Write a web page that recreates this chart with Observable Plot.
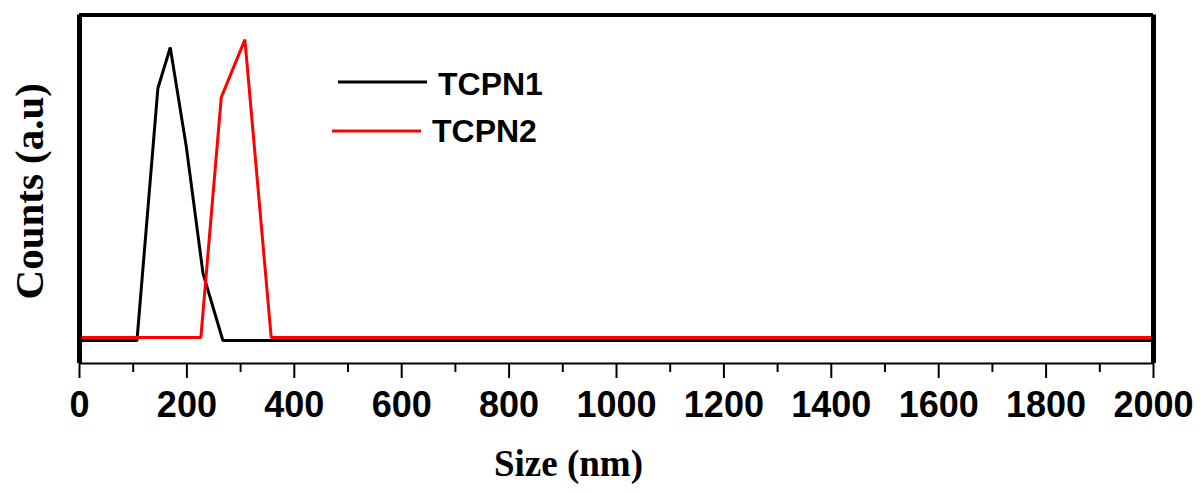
<!DOCTYPE html>
<html>
<head>
<meta charset="utf-8">
<script src="https://cdn.jsdelivr.net/npm/d3@7"></script>
<script src="https://cdn.jsdelivr.net/npm/@observablehq/plot@0.6"></script>
<style>
  html, body { margin: 0; padding: 0; background: #fff; }
  #chart { width: 1204px; height: 493px; }
</style>
</head>
<body>
<div id="chart"></div>
<script>
// ---- data ----
const seriesNames = ["TCPN1", "TCPN2"];
const seriesColors = ["#000000", "#ff0000"];
const tcpn1Size   = [0, 107, 146, 169, 199, 230, 267, 2000];
const tcpn1Counts = [0, 0, 86.1, 100, 66.0, 22.9, 0, 0];
const tcpn2Size   = [0, 226, 264, 308, 357, 2000];
const tcpn2Counts = [1.0, 1.0, 83.0, 102.7, 1.0, 1.0];
const majorTicks = [0, 200, 400, 600, 800, 1000, 1200, 1400, 1600, 1800, 2000];
const minorTicks = [100, 300, 500, 700, 900, 1100, 1300, 1500, 1700, 1900];
const xLabel = "Size (nm)";
const yLabel = "Counts (a.u)";
const xDomain = [0, 2000];
const yDomain = [-7.85, 111.1];

const rows = [
  ...tcpn1Size.map((s, i) => ({series: seriesNames[0], size: s, counts: tcpn1Counts[i]})),
  ...tcpn2Size.map((s, i) => ({series: seriesNames[1], size: s, counts: tcpn2Counts[i]}))
];

const sansBold = "'Liberation Sans', Arial, sans-serif";
const serifBold = "'Liberation Serif', 'Times New Roman', serif";

const plot = Plot.plot({
  width: 1204,
  height: 493,
  marginLeft: 79,
  marginRight: 51,
  marginTop: 14.5,
  marginBottom: 130,
  style: {background: "#fff", color: "#000", overflow: "visible"},
  x: {domain: xDomain},
  y: {domain: yDomain, axis: null},
  color: {domain: seriesNames, range: seriesColors},
  marks: [
    Plot.axisX({ticks: minorTicks, tickSize: 9, text: null, label: null, strokeWidth: 2}),
    Plot.axisX({ticks: majorTicks, tickSize: 15, tickPadding: 13, label: null, strokeWidth: 2,
                fontSize: 36, fontWeight: "bold", fontFamily: sansBold, tickFormat: d => String(d)}),
    Plot.line(rows, {x: "size", y: "counts", z: "series", stroke: "series", strokeWidth: 3, strokeLinejoin: "miter"}),
    // frame: top & right borders, thick left axis, bottom axis line
    Plot.ruleY([yDomain[1]], {stroke: "#000", strokeWidth: 4}),
    Plot.ruleX([xDomain[1]], {stroke: "#000", strokeWidth: 5}),
    Plot.ruleY([yDomain[0]], {stroke: "#000", strokeWidth: 2}),
    Plot.ruleX([xDomain[0]], {stroke: "#000", strokeWidth: 5}),
    Plot.text([xLabel], {frameAnchor: "bottom", lineAnchor: "bottom", textAnchor: "middle", dx: -48, dy: 112,
                         fontSize: 37, fontWeight: "bold", fontFamily: serifBold, fill: "#000"}),
    Plot.text([yLabel], {frameAnchor: "left", lineAnchor: "bottom", textAnchor: "middle", rotate: -90, dx: -37, dy: 2,
                         fontSize: 41, fontWeight: "bold", fontFamily: serifBold, fill: "#000"})
  ]
});

document.getElementById("chart").appendChild(plot);

// ---- legend ----
const svg = d3.select(plot);
const legend = svg.append("g").attr("class", "legend").attr("text-anchor", "start");
const legendItems = [
  {name: seriesNames[0], color: seriesColors[0], x1: 338, x2: 427, y: 82, tx: 438, ty: 94.5},
  {name: seriesNames[1], color: seriesColors[1], x1: 332, x2: 421, y: 131, tx: 432, ty: 142}
];
legendItems.forEach(d => {
  legend.append("line")
    .attr("x1", d.x1).attr("x2", d.x2).attr("y1", d.y).attr("y2", d.y)
    .attr("stroke", d.color).attr("stroke-width", 3);
  legend.append("text")
    .attr("x", d.tx).attr("y", d.ty)
    .attr("text-anchor", "start")
    .attr("font-family", sansBold).attr("font-weight", "bold").attr("font-size", 32)
    .attr("fill", "#000")
    .text(d.name);
});
</script>
</body>
</html>
